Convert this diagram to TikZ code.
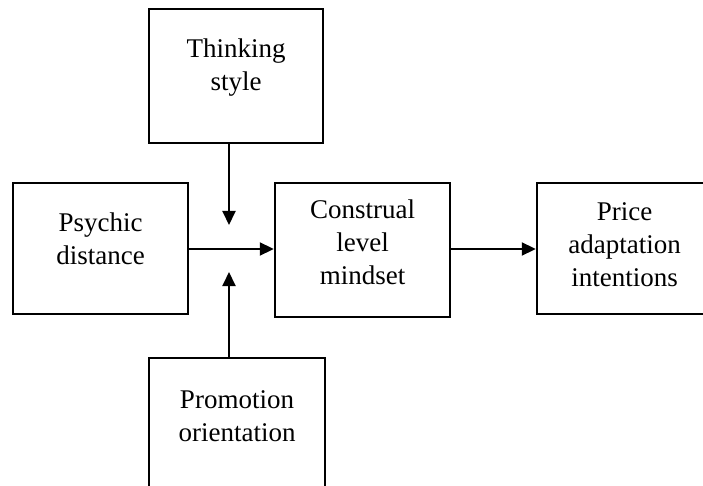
\documentclass[tikz,border=0pt]{standalone}
\usepackage{fontspec}
\setmainfont{Liberation Serif}
\usetikzlibrary{arrows.meta}
\begin{document}
\begin{tikzpicture}[x=1pt,y=-1pt,
  box/.style={draw=black,line width=2.4pt,rectangle,minimum width=175pt,minimum height=132pt,inner sep=0pt},
  lbl/.style={align=center,font=\fontsize{27pt}{33pt}\selectfont,inner sep=0pt},
  arr/.style={line width=1.9pt,-{Triangle[length=14pt,width=13pt]}}]
  \useasboundingbox (0,0) rectangle (703,486);
  \clip (0,0) rectangle (703,486);

  % boxes
  \node[box,minimum width=174pt,minimum height=134pt] (think) at (236,76) {};
  \node[box,minimum height=131pt] (psych) at (100.5,248.5) {};
  \node[box,minimum height=134pt] (constr) at (362.5,250) {};
  \node[box,minimum height=131pt] (price) at (624.5,248.5) {};
  \node[box,minimum width=176pt,minimum height=134pt] (promo) at (237,425) {};

  % labels, set a little above the box centres
  \node[lbl] (thinkT) at ([yshift=8pt]think.center) {Thinking\\style};
  \node[lbl] (psychT) at ([yshift=10pt]psych.center) {Psychic\\distance};
  \node[lbl] (constrT) at ([yshift=8pt]constr.center) {Construal\\level\\mindset};
  \node[lbl] (priceT) at ([yshift=4pt]price.center) {Price\\adaptation\\intentions};
  \node[lbl] (promoT) at ([yshift=9pt]promo.center) {Promotion\\orientation};

  % moderator arrow tips
  \coordinate (dtip) at (229,225);
  \coordinate (utip) at (229,272);

  % connectors
  \draw[arr] (psych.east |- 0,249) -- (constr.west |- 0,249);
  \draw[arr] (constr.east |- 0,249) -- (price.west |- 0,249);
  \draw[arr] (dtip |- think.south) -- (dtip);
  \draw[arr] (utip |- promo.north) -- (utip);
\end{tikzpicture}
\end{document}
